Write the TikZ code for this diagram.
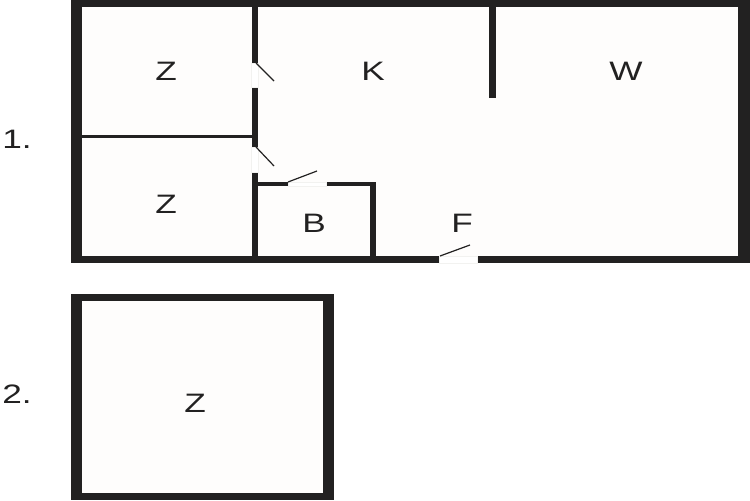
\documentclass[tikz,border=0pt]{standalone}
\usepackage{fontspec}
\usepackage{graphicx}
\setmainfont{Liberation Sans}
\definecolor{wallc}{HTML}{222121}
\definecolor{floorc}{HTML}{FEFDFC}
\definecolor{gapc}{HTML}{F2F2F0}
\tikzset{
  x=0.75pt,y=-0.75pt,
  wall/.style={fill=wallc,draw=none},
  floorarea/.style={fill=floorc,draw=none},
  doorgap/.style={fill=white,draw=gapc,line width=0.5pt},
  leaf/.style={draw=wallc,line width=0.9pt},
  room/.style={text=wallc,inner sep=0pt,font=\fontsize{20}{20}\selectfont},
}
\newcommand{\wide}[1]{\scalebox{1.32}[1]{#1}}
\begin{document}
\begin{tikzpicture}
\useasboundingbox (0,0) rectangle (750,500);
\fill[white] (0,0) rectangle (750,500);
% plan 1
\fill[wall] (71,0) rectangle (750,263);
\fill[floorarea] (82,7) rectangle (738,256);
\fill[wall] (82,135) rectangle (252,138);
\fill[wall] (251.5,7) rectangle (258,256);
\fill[wall] (489,7) rectangle (495.5,98);
\fill[wall] (258,182) rectangle (376,186);
\fill[wall] (370,182) rectangle (376,256);
% doors
\fill[doorgap] (251.5,63) rectangle (258,87);
\fill[doorgap] (251.5,147) rectangle (258,172);
\fill[doorgap] (288,182) rectangle (326,186);
\fill[doorgap] (439,256) rectangle (477,263);
\draw[leaf] (256,63) -- (274,81);
\draw[leaf] (256,147) -- (274,166);
\draw[leaf] (288,182) -- (317,171);
\draw[leaf] (440,256) -- (470,245);
% plan 2
\fill[wall] (71,294) rectangle (334,500);
\fill[floorarea] (82,301) rectangle (323,493);
% labels
\node[room] (z1) at (166,71) {\wide{Z}};
\node[room] (k) at (373,71) {\wide{K}};
\node[room] (w) at (626,71) {\wide{W}};
\node[room] (z2) at (166,204) {\wide{Z}};
\node[room] (b) at (314,223) {\wide{B}};
\node[room] (f) at (462,223) {\wide{F}};
\node[room] (z3) at (195,403) {\wide{Z}};
\node[room] (n1) at (17,139) {\wide{1.}};
\node[room] (n2) at (17,394) {\wide{2.}};
\end{tikzpicture}
\end{document}
